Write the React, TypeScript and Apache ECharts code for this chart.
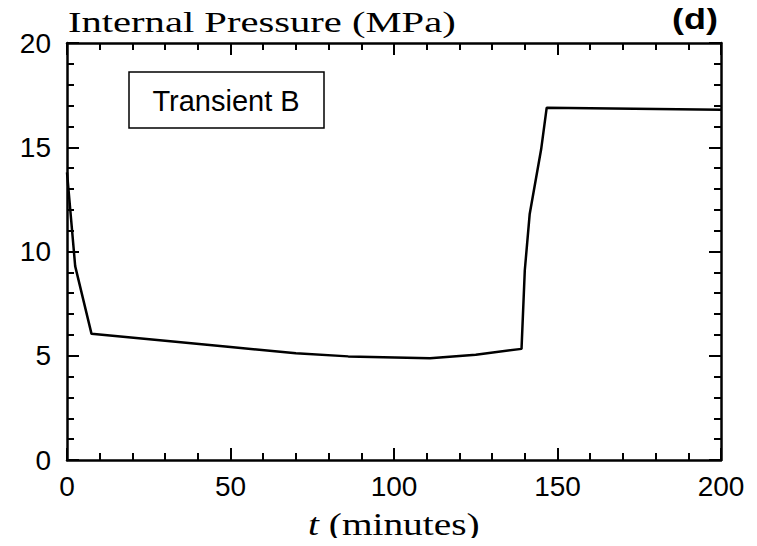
import React, { useEffect, useRef } from "react";
import * as echarts from "echarts";

// Transient B: internal pressure history
const timeMin: number[] = [0, 1, 2.5, 7.5, 30, 50, 70, 86, 111, 125, 139, 140, 141.5, 145, 146.7, 200];
const pressureMPa: number[] = [13.8, 12.0, 9.3, 6.05, 5.72, 5.42, 5.12, 4.97, 4.88, 5.05, 5.33, 9.1, 11.8, 14.9, 16.9, 16.8];

const xTicks = { min: 0, max: 200, interval: 50 };
const yTicks = { min: 0, max: 20, interval: 5 };

const GRID = { left: 67, right: 36, top: 43, bottom: 86 };

const SERIF = "'Liberation Serif', 'Times New Roman', serif";
const SANS = "'Liberation Sans', Arial, sans-serif";

export default function App() {
  const ref = useRef<HTMLDivElement>(null);

  useEffect(() => {
    if (!ref.current) return;
    const chart = echarts.init(ref.current, null, { renderer: "svg" });

    const axisLine = { show: true, onZero: false, lineStyle: { color: "#000", width: 2.5 } };
    const majorTick = { show: true, inside: true, length: 12, lineStyle: { color: "#000", width: 2 } };
    const minorTick = { show: true, splitNumber: 5, length: 7, lineStyle: { color: "#000", width: 2 } };
    const tickLabel = { color: "#000", fontFamily: SANS, fontSize: 28 };

    const data = timeMin.map((t, i) => [t, pressureMPa[i]]);

    const xBase = {
      type: "value",
      min: xTicks.min,
      max: xTicks.max,
      interval: xTicks.interval,
      axisLine,
      axisTick: majorTick,
      minorTick,
      splitLine: { show: false },
    };
    const yBase = {
      type: "value",
      min: yTicks.min,
      max: yTicks.max,
      interval: yTicks.interval,
      axisLine,
      axisTick: majorTick,
      minorTick,
      splitLine: { show: false },
    };

    chart.setOption({
      animation: false,
      backgroundColor: "#fff",
      grid: { left: GRID.left, right: GRID.right, top: GRID.top, bottom: GRID.bottom, containLabel: false },
      xAxis: [
        { ...xBase, position: "bottom", axisLabel: { ...tickLabel, margin: 12 } },
        { ...xBase, position: "top", axisLabel: { show: false } },
      ],
      yAxis: [
        { ...yBase, position: "left", axisLabel: { ...tickLabel, margin: 16 } },
        { ...yBase, position: "right", axisLabel: { show: false } },
      ],
      series: [
        {
          type: "line",
          data,
          xAxisIndex: 0,
          yAxisIndex: 0,
          showSymbol: false,
          symbol: "none",
          lineStyle: { color: "#000", width: 2.5 },
          z: 3,
        },
      ],
      graphic: [
        {
          type: "text",
          x: 68,
          y: 37,
          scaleX: 1.4,
          style: {
            text: "Internal Pressure (MPa)",
            fontFamily: SERIF,
            fontSize: 29,
            fill: "#000",
            textAlign: "left",
            textVerticalAlign: "bottom",
          },
        },
        {
          type: "text",
          x: 718,
          y: 34,
          scaleX: 1.2,
          style: {
            text: "(d)",
            fontFamily: SANS,
            fontWeight: "bold",
            fontSize: 30,
            fill: "#000",
            textAlign: "right",
            textVerticalAlign: "bottom",
          },
        },
        {
          type: "rect",
          shape: { x: 129, y: 72, width: 195, height: 56 },
          style: { fill: "#fff", stroke: "#000", lineWidth: 1.5 },
          z: 10,
        },
        {
          type: "text",
          x: 226,
          y: 101,
          z: 11,
          style: {
            text: "Transient B",
            fontFamily: SANS,
            fontSize: 29,
            fill: "#000",
            textAlign: "center",
            textVerticalAlign: "middle",
          },
        },
        {
          type: "text",
          x: 308,
          y: 540,
          scaleX: 1.27,
          style: {
            text: "{it|t} (minutes)",
            rich: {
              it: { fontFamily: SERIF, fontStyle: "italic", fontSize: 31, fill: "#000" },
            },
            fontFamily: SERIF,
            fontSize: 31,
            fill: "#000",
            textAlign: "left",
            textVerticalAlign: "bottom",
          },
        },
      ],
    });

    return () => {
      chart.dispose();
    };
  }, []);

  return <div ref={ref} style={{ width: 757, height: 546, margin: -8 }} />;
}
